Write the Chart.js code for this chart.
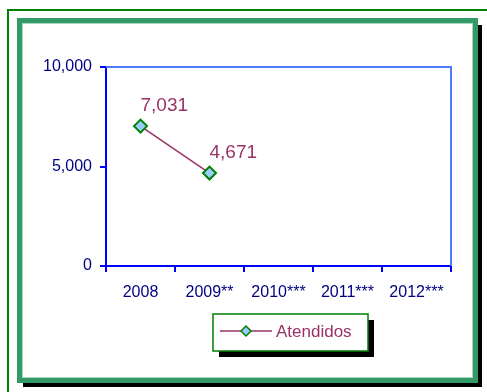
<!DOCTYPE html>
<html>
<head>
<meta charset="utf-8">
<script src="https://cdn.jsdelivr.net/npm/chart.js@4"></script>
<style>
  html, body { margin: 0; background: #fff; overflow: hidden; }
  canvas { display: block; }
</style>
</head>
<body>
<canvas id="chart" width="487" height="392"></canvas>
<script>
// DATA
const years = ["2008", "2009**", "2010***", "2011***", "2012***"];
const atendidos = [7031, 4671, null, null, null];
const yTicks = [0, 5000, 10000];
const seriesName = "Atendidos";

const FONT = "Arial, 'Liberation Sans', sans-serif";
const NAVY = "#000080";
const WINE = "#993366";

// page frame: thin green lines, thick green box with black shadow
const pageFrame = {
    id: "pageFrame",
    beforeDraw(chart) {
        const ctx = chart.ctx;
        ctx.save();
        ctx.fillStyle = "#fff";
        ctx.fillRect(0, 0, 487, 392);
        ctx.fillStyle = "#008000";
        ctx.fillRect(7, 9, 480, 2);
        ctx.fillRect(7, 9, 2, 383);
        ctx.fillStyle = "#000";
        ctx.fillRect(23, 25, 459, 362);
        ctx.fillStyle = "#339966";
        ctx.fillRect(17, 18, 461, 365);
        ctx.fillStyle = "#a8d8bc";
        ctx.fillRect(22, 23, 451, 355);
        ctx.fillStyle = "#fff";
        ctx.fillRect(23, 24, 449, 353);
        ctx.restore();
    }
};

// value labels above each point
const valueLabels = {
    id: "valueLabels",
    afterDatasetsDraw(chart) {
        const ctx = chart.ctx;
        const meta = chart.getDatasetMeta(0);
        ctx.save();
        ctx.font = "19px " + FONT;
        ctx.fillStyle = WINE;
        ctx.textAlign = "left";
        ctx.textBaseline = "alphabetic";
        meta.data.forEach((pt, i) => {
            const v = atendidos[i];
            if (v == null) return;
            ctx.fillText(v.toLocaleString("en-US"), pt.x, pt.y - 15);
        });
        ctx.restore();
    }
};

// top / right plot border
const plotBorder = {
    id: "plotBorder",
    beforeDatasetsDraw(chart) {
        const { ctx, chartArea: a } = chart;
        ctx.save();
        ctx.strokeStyle = "#4d7cff";
        ctx.lineWidth = 2;
        ctx.beginPath();
        ctx.moveTo(a.left, a.top);
        ctx.lineTo(a.right, a.top);
        ctx.lineTo(a.right, a.bottom);
        ctx.stroke();
        ctx.restore();
    }
};

// boxed legend with shadow
const boxLegend = {
    id: "boxLegend",
    afterDraw(chart) {
        const ctx = chart.ctx;
        const ds = chart.data.datasets[0];
        const x = 213, y = 314, w = 155, h = 37;
        ctx.save();
        ctx.fillStyle = "#000";
        ctx.fillRect(x + 6, y + 6, w, h);
        ctx.fillStyle = "#fff";
        ctx.fillRect(x, y, w, h);
        ctx.strokeStyle = "#008000";
        ctx.lineWidth = 1.5;
        ctx.strokeRect(x, y, w, h);

        const cy = y + 17;
        ctx.strokeStyle = ds.borderColor;
        ctx.lineWidth = 1.5;
        ctx.beginPath();
        ctx.moveTo(220, cy);
        ctx.lineTo(272, cy);
        ctx.stroke();

        const r = 5, cx = 246;
        ctx.beginPath();
        ctx.moveTo(cx, cy - r);
        ctx.lineTo(cx + r, cy);
        ctx.lineTo(cx, cy + r);
        ctx.lineTo(cx - r, cy);
        ctx.closePath();
        ctx.fillStyle = ds.pointBackgroundColor;
        ctx.fill();
        ctx.strokeStyle = ds.pointBorderColor;
        ctx.lineWidth = 1.5;
        ctx.stroke();

        ctx.font = "17px " + FONT;
        ctx.fillStyle = WINE;
        ctx.textAlign = "left";
        ctx.textBaseline = "middle";
        ctx.fillText(ds.label, 276, cy + 1);
        ctx.restore();
    }
};

new Chart(document.getElementById("chart"), {
    type: "line",
    data: {
        labels: years,
        datasets: [{
            label: seriesName,
            data: atendidos,
            borderColor: WINE,
            borderWidth: 1.5,
            pointStyle: "rectRot",
            pointRadius: 6.5,
            pointBackgroundColor: "#99ccff",
            pointBorderColor: "#008000",
            pointBorderWidth: 2,
            spanGaps: false
        }]
    },
    options: {
        responsive: false,
        animation: false,
        layout: { padding: { left: 0, top: 67, right: 36, bottom: 0 } },
        plugins: { legend: { display: false }, tooltip: { enabled: false } },
        scales: {
            x: {
                offset: true,
                grid: { offset: true, drawOnChartArea: false, color: "#0000ff", tickLength: 6, lineWidth: 2 },
                border: { color: "#0000ff", width: 2 },
                ticks: { color: NAVY, font: { family: FONT, size: 16 }, padding: 11, maxRotation: 0, autoSkip: false },
                afterFit(scale) { scale.height = 126; }
            },
            y: {
                min: 0,
                max: 10000,
                afterBuildTicks(scale) { scale.ticks = yTicks.map(v => ({ value: v })); },
                grid: { drawOnChartArea: false, color: "#0000ff", tickLength: 6, lineWidth: 2 },
                border: { color: "#0000ff", width: 2 },
                ticks: {
                    color: NAVY,
                    font: { family: FONT, size: 16 },
                    padding: 8,
                    callback: v => v.toLocaleString("en-US")
                },
                afterFit(scale) { scale.width = 106; }
            }
        }
    },
    plugins: [pageFrame, plotBorder, valueLabels, boxLegend]
});
</script>
</body>
</html>
